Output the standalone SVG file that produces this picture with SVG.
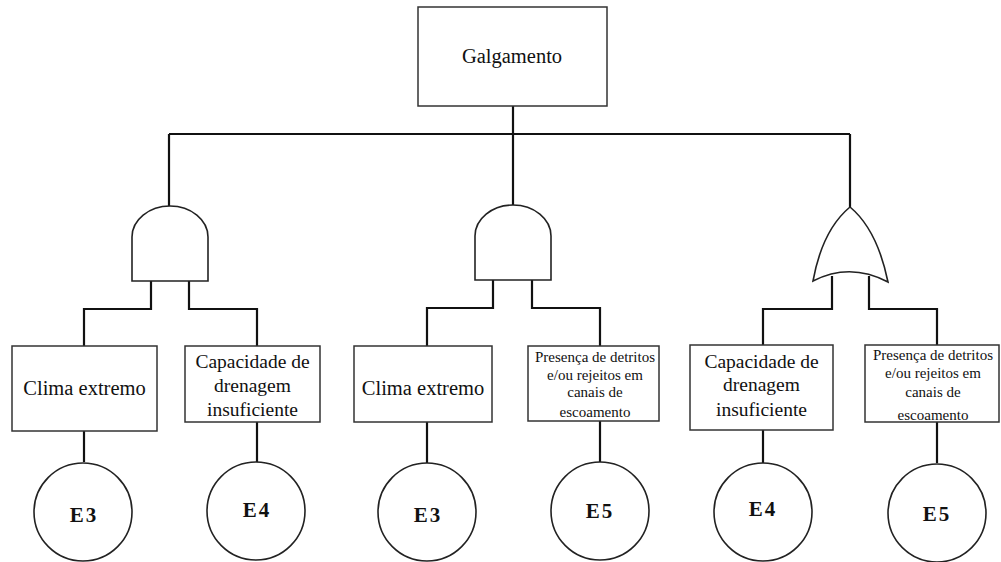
<svg xmlns="http://www.w3.org/2000/svg" width="1001" height="562" viewBox="0 0 1001 562">
  <style>
    .box { fill: #ffffff; stroke: #333333; stroke-width: 1.5; }
    .gate { fill: #ffffff; stroke: #222222; stroke-width: 1.6; }
    .evt { fill: #ffffff; stroke: #222222; stroke-width: 1.6; }
    .wire { fill: none; stroke: #111111; stroke-width: 2.2; }
    text { font-family: "Liberation Serif", "DejaVu Serif", serif; fill: #111111; text-anchor: middle; }
    .big { font-size: 20.5px; }
    .mid { font-size: 19.5px; }
    .sm { font-size: 15px; }
    .id { font-size: 21px; font-weight: bold; letter-spacing: 2px; }
  </style>
  <rect width="1001" height="562" fill="#ffffff"/>

  <!-- connectors -->
  <g id="connectors">
    <path class="wire" d="M513,106 V134"/>
    <path class="wire" d="M169,134 H850"/>
    <path class="wire" d="M169,134 V206"/>
    <path class="wire" d="M513,134 V205"/>
    <path class="wire" d="M850,134 V207"/>
    <path class="wire" d="M151,281 V309 H84 V346"/>
    <path class="wire" d="M189,281 V309 H257 V346"/>
    <path class="wire" d="M493,280 V308 H427 V346"/>
    <path class="wire" d="M532,280 V308 H600 V346"/>
    <path class="wire" d="M832,276 V309 H763 V345"/>
    <path class="wire" d="M869,276 V309 H937 V345"/>
    <path class="wire" d="M84,431 V462"/>
    <path class="wire" d="M257,422 V462"/>
    <path class="wire" d="M427,422 V463"/>
    <path class="wire" d="M600,421 V462"/>
    <path class="wire" d="M763,430 V463"/>
    <path class="wire" d="M937,422 V463"/>
  </g>

  <!-- top event -->
  <g id="top">
    <rect class="box" x="418" y="7" width="189" height="99"/>
    <text class="big" x="512" y="63">Galgamento</text>
  </g>

  <!-- gates -->
  <g id="and1">
    <path class="gate" d="M132,281 V237 A38,31 0 0 1 208,237 V281 Z"/>
  </g>
  <g id="and2">
    <path class="gate" d="M475,280 V236 A38,31 0 0 1 551,236 V280 Z"/>
  </g>
  <g id="or1">
    <path class="gate" d="M813,281 C819,248 832,222 850,207 C868,222 881,248 888,282 Q850,262 813,281 Z"/>
  </g>

  <!-- intermediate events -->
  <g id="b1">
    <rect class="box" x="12" y="346" width="145" height="85"/>
    <text class="big" x="84.5" y="395">Clima extremo</text>
  </g>
  <g id="b2">
    <rect class="box" x="185" y="346" width="135" height="76"/>
    <text class="mid" x="252.5" y="368">Capacidade de</text>
    <text class="mid" x="252.5" y="392">drenagem</text>
    <text class="mid" x="252.5" y="416">insuficiente</text>
  </g>
  <g id="b3">
    <rect class="box" x="354" y="346" width="138" height="76"/>
    <text class="big" x="423" y="395">Clima extremo</text>
  </g>
  <g id="b4">
    <rect class="box" x="528" y="346" width="131" height="75"/>
    <text class="sm" x="595" y="362">Presença de detritos</text>
    <text class="sm" x="595" y="380">e/ou rejeitos em</text>
    <text class="sm" x="595" y="397">canais de</text>
    <text class="sm" x="595" y="417">escoamento</text>
  </g>
  <g id="b5">
    <rect class="box" x="690" y="345" width="143" height="85"/>
    <text class="mid" x="761.5" y="368">Capacidade de</text>
    <text class="mid" x="761.5" y="391">drenagem</text>
    <text class="mid" x="761.5" y="416">insuficiente</text>
  </g>
  <g id="b6">
    <rect class="box" x="865" y="345" width="134" height="77"/>
    <text class="sm" x="933" y="360">Presença de detritos</text>
    <text class="sm" x="933" y="378">e/ou rejeitos em</text>
    <text class="sm" x="933" y="397">canais de</text>
    <text class="sm" x="933" y="420">escoamento</text>
  </g>

  <!-- basic events -->
  <g id="e3a">
    <circle class="evt" cx="83" cy="512" r="49"/>
    <text class="id" x="84" y="522">E3</text>
  </g>
  <g id="e4a">
    <circle class="evt" cx="256" cy="511" r="49"/>
    <text class="id" x="257" y="517">E4</text>
  </g>
  <g id="e3b">
    <circle class="evt" cx="427" cy="512" r="49"/>
    <text class="id" x="428" y="522">E3</text>
  </g>
  <g id="e5a">
    <circle class="evt" cx="600" cy="511" r="49"/>
    <text class="id" x="600" y="518">E5</text>
  </g>
  <g id="e4b">
    <circle class="evt" cx="763" cy="512" r="49"/>
    <text class="id" x="763" y="516">E4</text>
  </g>
  <g id="e5b">
    <circle class="evt" cx="937" cy="513" r="49"/>
    <text class="id" x="937" y="521">E5</text>
  </g>
</svg>
